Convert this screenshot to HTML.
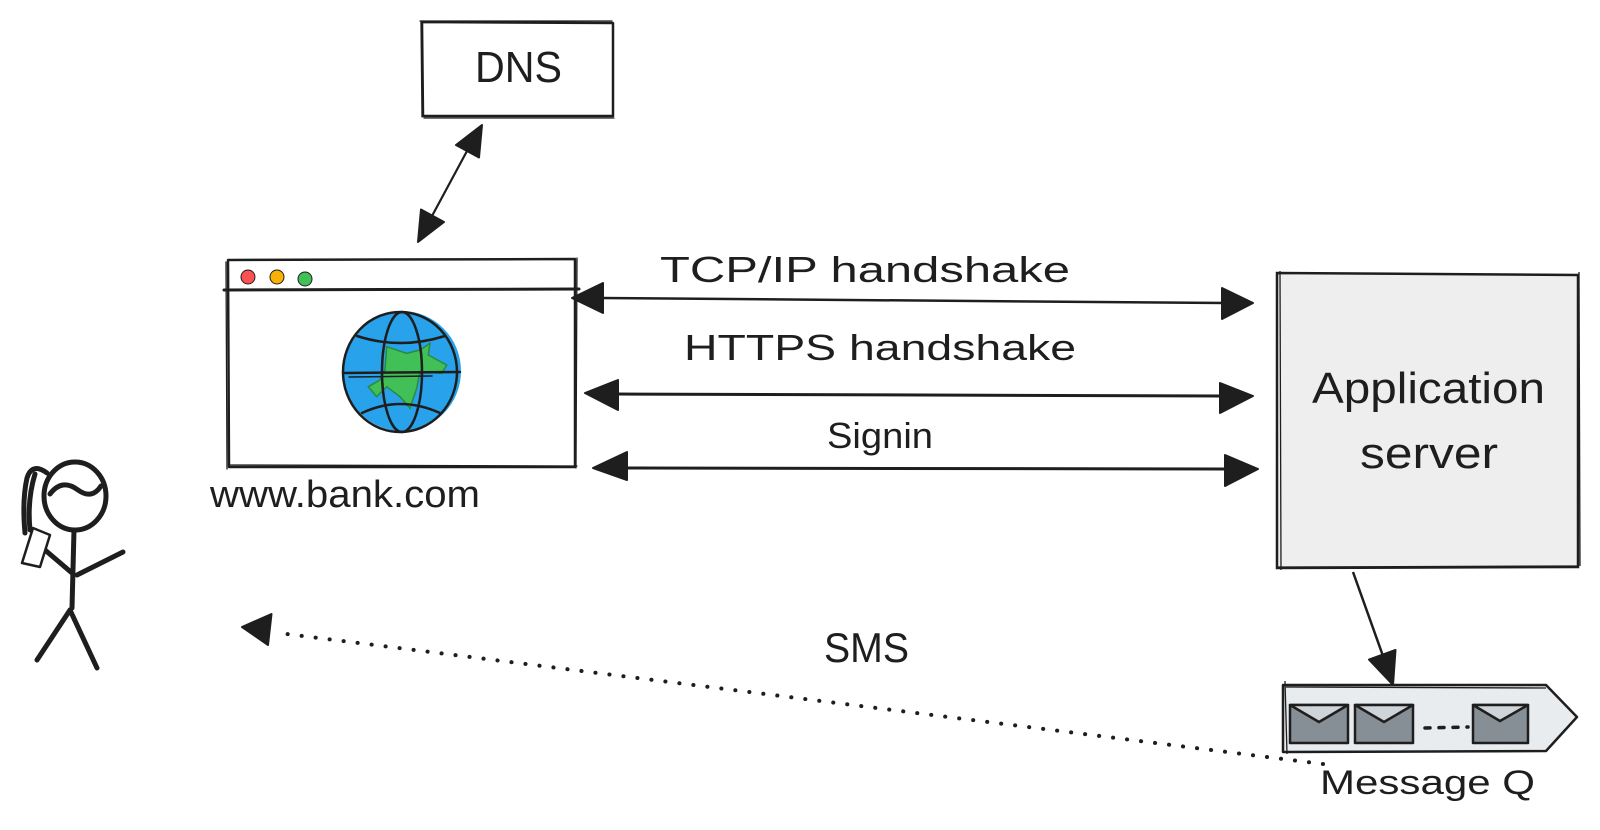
<!DOCTYPE html>
<html><head><meta charset="utf-8"><style>
html,body{margin:0;padding:0;background:#fff;}
svg{display:block;}
text{font-family:"Liberation Sans",sans-serif;fill:#1e1e1e;}
</style></head><body>
<svg width="1600" height="830" viewBox="0 0 1600 830" xmlns="http://www.w3.org/2000/svg">
<rect x="0" y="0" width="1600" height="830" fill="#fff"/>
<g stroke="#1e1e1e" fill="none" stroke-linecap="round" stroke-linejoin="round">
  <!-- DNS box -->
  <path d="M422,22 L613,23 L613,116 L423,116 Z" stroke-width="2.5"/>
  <path d="M420,21 L612,21 M424,118 L614,118 M421,22 L422,117" stroke-width="1.3"/>
  <!-- DNS arrow -->
  <line x1="467" y1="151" x2="432" y2="216" stroke-width="2.2"/>
  <polygon points="482,125 479,157.5 456,145" fill="#1e1e1e" stroke-width="2"/>
  <polygon points="418,242 444,222 421,209.5" fill="#1e1e1e" stroke-width="2"/>

  <!-- Browser -->
  <path d="M228,260 L575,259 L575,467 L229,467 Z" stroke-width="2.5"/>
  <path d="M226,262 L227,469 M230,465 L577,466 M577,258 L576,468" stroke-width="1.3"/>
  <path d="M224,290 L579,289" stroke-width="3"/>
</g>
<circle cx="248" cy="277" r="7" fill="#fa5252" stroke="#1e1e1e" stroke-width="1"/>
<circle cx="277" cy="277" r="7" fill="#fab005" stroke="#1e1e1e" stroke-width="1"/>
<circle cx="305" cy="279" r="7" fill="#40c057" stroke="#1e1e1e" stroke-width="1"/>
<!-- Globe -->
<ellipse cx="402" cy="371" rx="59" ry="60" fill="#28a2ea"/>
<polygon points="386.7,346.7 406.7,353.3 420,350 430,343.3 428.3,355 446.7,365 441.7,373.3 420,371.7 416.7,388.3 410,408.3 400,396.7 386.7,386.7 376.7,396.7 368.3,386.7 380,380 385,370" fill="#40c057" stroke="#2b8a3e" stroke-width="1.5"/>
<g stroke="#1e1e1e" fill="none" stroke-width="2.5" stroke-linecap="round">
  <ellipse cx="400" cy="372" rx="57" ry="60"/>
  <ellipse cx="402" cy="372" rx="20" ry="60"/>
  <line x1="343" y1="373" x2="460" y2="372"/>
  <line x1="349" y1="377" x2="432" y2="376" stroke-width="1.5"/>
  <path d="M357,336 Q400,350 445,336"/>
  <path d="M362,413 Q400,395 440,413"/>
</g>

<!-- Horizontal arrows -->
<g stroke="#1e1e1e" fill="#1e1e1e" stroke-width="2" stroke-linejoin="round">
  <line x1="600" y1="298" x2="1225" y2="303" stroke-width="2.5"/>
  <polygon points="572,298 603,283 603,313"/>
  <polygon points="1253,303 1222,288 1222,319"/>
  <line x1="615" y1="394" x2="1222" y2="396" stroke-width="3"/>
  <polygon points="585,393 618,380 618,410"/>
  <polygon points="1253,396 1220,383 1220,413"/>
  <line x1="625" y1="468" x2="1226" y2="469" stroke-width="3"/>
  <polygon points="593,468 627,452 627,480"/>
  <polygon points="1258,469 1225,455 1225,486"/>
</g>

<!-- App server -->
<path d="M1277,273 L1578,275 L1578,567 L1277,568 Z" fill="#eeeeee" stroke="#1e1e1e" stroke-width="2.5"/>
<path d="M1280,271 L1281,570 M1276,567 L1577,566 M1579,272 L1580,566" stroke="#1e1e1e" stroke-width="1.3" fill="none"/>

<!-- Arrow to queue -->
<g stroke="#1e1e1e" fill="#1e1e1e" stroke-width="2" stroke-linejoin="round">
  <line x1="1353" y1="572" x2="1383" y2="656" stroke-width="2.5"/>
  <polygon points="1393,685 1395.5,650 1369,659.6"/>
</g>

<!-- Message queue -->
<polygon points="1283,685 1546,685 1577,717 1546,751 1283,752" fill="#e9ecef" stroke="#1e1e1e" stroke-width="2.5" stroke-linejoin="round"/>
<path d="M1285,681 L1287,754 M1286,687 L1546,688" stroke="#1e1e1e" stroke-width="1.3" fill="none"/>
<g stroke="#1e1e1e" stroke-width="2.5" stroke-linejoin="round">
  <rect x="1290" y="705" width="58" height="38" fill="#868e96"/>
  <polygon points="1290,705 1319,722 1348,705" fill="#ced4da"/>
  <rect x="1355" y="705" width="58" height="38" fill="#868e96"/>
  <polygon points="1355,705 1384,722 1413,705" fill="#ced4da"/>
  <rect x="1473" y="705" width="55" height="38" fill="#868e96"/>
  <polygon points="1473,705 1500,721 1528,705" fill="#ced4da"/>
</g>
<line x1="1425" y1="728" x2="1468" y2="727" stroke="#1e1e1e" stroke-width="3.5" stroke-dasharray="5 9" stroke-linecap="round"/>

<!-- SMS dotted arrow -->
<line x1="1323" y1="764" x2="279" y2="633" stroke="#1e1e1e" stroke-width="4" stroke-dasharray="0.1 14" stroke-linecap="round"/>
<polygon points="242,627 271.5,614 268,645" fill="#1e1e1e" stroke="#1e1e1e" stroke-width="2" stroke-linejoin="round"/>

<!-- Stick figure -->
<g stroke="#1e1e1e" fill="none" stroke-width="5" stroke-linecap="round" stroke-linejoin="round">
  <ellipse cx="75" cy="496" rx="31" ry="34"/>
  <path d="M50,494 Q62,478 78,490 Q92,500 101,486"/>
  <path d="M47,473 Q32,462 27,478 Q22,500 25,533"/>
  <path d="M35,474 Q27,500 30,530"/>
  <line x1="74" y1="530" x2="72" y2="608"/>
  <line x1="70" y1="610" x2="37" y2="660"/>
  <line x1="70" y1="610" x2="97" y2="668"/>
  <line x1="77" y1="575" x2="123" y2="552"/>
  <line x1="72" y1="573" x2="45" y2="550"/>
</g>
<polygon points="22,563 40,567 50,535 33,528" fill="#fff" stroke="#1e1e1e" stroke-width="2.5" stroke-linejoin="round"/>

<!-- Texts -->
<text x="475" y="82" font-size="44" textLength="87" lengthAdjust="spacingAndGlyphs">DNS</text>
<text x="210" y="507" font-size="38" textLength="270" lengthAdjust="spacingAndGlyphs">www.bank.com</text>
<text x="660" y="282" font-size="36" textLength="410" lengthAdjust="spacingAndGlyphs">TCP/IP handshake</text>
<text x="684" y="360" font-size="36" textLength="392" lengthAdjust="spacingAndGlyphs">HTTPS handshake</text>
<text x="827" y="448" font-size="36" textLength="106" lengthAdjust="spacingAndGlyphs">Signin</text>
<text x="1312" y="403" font-size="44" textLength="233" lengthAdjust="spacingAndGlyphs">Application</text>
<text x="1360" y="468" font-size="44" textLength="138" lengthAdjust="spacingAndGlyphs">server</text>
<text x="824" y="662" font-size="42" textLength="85" lengthAdjust="spacingAndGlyphs">SMS</text>
<text x="1320" y="794" font-size="34" textLength="215" lengthAdjust="spacingAndGlyphs">Message Q</text>
</svg>
</body></html>
